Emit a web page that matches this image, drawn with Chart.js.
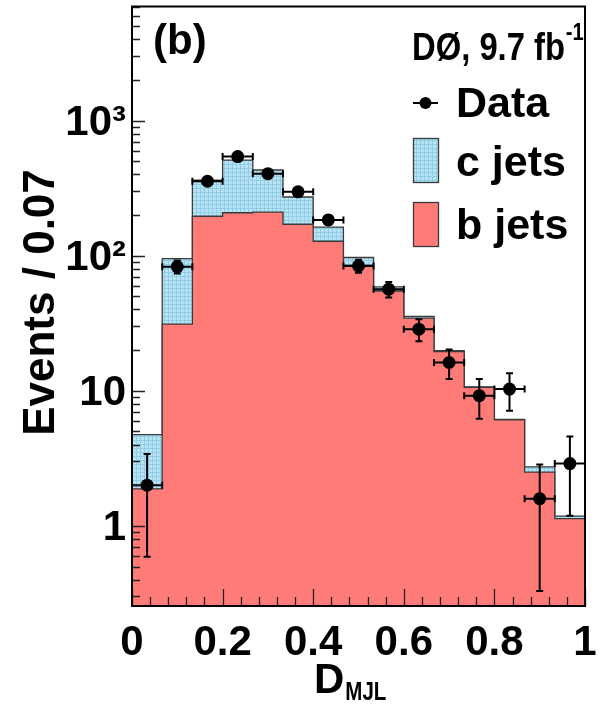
<!DOCTYPE html>
<html>
<head>
<meta charset="utf-8">
<script src="https://cdn.jsdelivr.net/npm/chart.js@4.4.1/dist/chart.umd.min.js"></script>
<style>
  html, body { margin: 0; padding: 0; background: #ffffff; }
  #wrap { width: 601px; height: 708px; position: relative; }
</style>
</head>
<body>
<div id="wrap"><canvas id="c" width="601" height="708"></canvas></div>
<script>
// D_MJL histogram: 15 bins between 0 and 1
const binEdges = [0, 0.0667, 0.1333, 0.2, 0.2667, 0.3333, 0.4, 0.4667, 0.5333, 0.6, 0.6667, 0.7333, 0.8, 0.8667, 0.9333, 1];

// b-jet template (bottom of the stack)
const bJets = [1.88, 31.2, 196, 208, 210, 171, 128, 85, 54.8, 34.5, 19.5, 10.6, 6.1, 2.50, 1.13];
// c-jet template (stacked on top of b jets)
const cJets = [2.85, 63.8, 166, 303, 221, 101, 35, 12, 3.9, 1.0, 0.3, 0.1, 0.05, 0.23, 0.05];

// observed data and its uncertainties
const dataVals = [2.0, 83, 356, 542, 405, 297, 184, 84, 56.5, 28.6, 16.2, 9.2, 10.3, 1.59, 2.89];
const dataErr  = [1.41, 9.1, 18.9, 23.3, 20.1, 17.2, 13.6, 9.2, 7.5, 5.3, 4.0, 3.0, 3.2, 1.26, 1.70];

// axis ticks
const xTickValues = [0, 0.2, 0.4, 0.6, 0.8, 1];
const xTickLabels = ['0', '0.2', '0.4', '0.6', '0.8', '1'];
const yTickValues = [1, 10, 100, 1000];
const yTickLabels = ['1', '10', '10\u00B2', '10\u00B3'];

const FONT = "'Liberation Sans', Arial, Helvetica, sans-serif";
const SALMON = '#ff7b78';
const OUTLINE = '#3a3a3a';

const canvas = document.getElementById('c');
const ctx0 = canvas.getContext('2d');

// fine light-blue cross-hatch used for the c-jet component
function makeHatch() {
  const t = document.createElement('canvas');
  t.width = 4; t.height = 4;
  const g = t.getContext('2d');
  g.fillStyle = '#b8e3f4';
  g.fillRect(0, 0, 4, 4);
  g.fillStyle = '#92cde6';
  g.fillRect(0, 0, 4, 1);
  g.fillRect(0, 0, 1, 4);
  return ctx0.createPattern(t, 'repeat');
}
const hatch = makeHatch();

// step outline points: one point per lower bin edge plus the final edge
function stepPoints(vals) {
  return binEdges.map((e, i) => ({ x: e, y: vals[Math.min(i, vals.length - 1)] }));
}
const stackTotal = bJets.map((b, i) => b + cJets[i]);
const binCenters = dataVals.map((_, i) => (binEdges[i] + binEdges[i + 1]) / 2);

// error bars with end caps, drawn through the chart scales
const errorBars = {
  id: 'errorBars',
  afterDatasetsDraw(chart) {
    const { ctx, scales: { x, y }, chartArea } = chart;
    ctx.save();
    ctx.beginPath();
    ctx.rect(chartArea.left, chartArea.top, chartArea.right - chartArea.left, chartArea.bottom - chartArea.top);
    ctx.clip();
    ctx.strokeStyle = '#000';
    ctx.lineWidth = 2;
    const cap = 3.5;
    dataVals.forEach((v, i) => {
      const px = x.getPixelForValue(binCenters[i]);
      const py = y.getPixelForValue(v);
      const xl = x.getPixelForValue(binEdges[i]);
      const xr = x.getPixelForValue(binEdges[i + 1]);
      const yh = y.getPixelForValue(v + dataErr[i]);
      const lo = v - dataErr[i];
      const yl = lo > y.min ? y.getPixelForValue(lo) : chartArea.bottom;
      ctx.beginPath();
      ctx.moveTo(xl, py); ctx.lineTo(xr, py);
      ctx.moveTo(xl, py - cap); ctx.lineTo(xl, py + cap);
      ctx.moveTo(xr, py - cap); ctx.lineTo(xr, py + cap);
      ctx.moveTo(px, yh); ctx.lineTo(px, yl);
      ctx.moveTo(px - cap, yh); ctx.lineTo(px + cap, yh);
      if (lo > y.min) { ctx.moveTo(px - cap, yl); ctx.lineTo(px + cap, yl); }
      ctx.stroke();
    });
    ctx.restore();
  }
};

// inward tick marks, frame, titles and legend
const decorations = {
  id: 'decorations',
  afterDraw(chart) {
    const { ctx, scales: { x, y }, chartArea: a } = chart;
    ctx.save();
    // tick marks
    ctx.strokeStyle = '#222';
    ctx.lineWidth = 1.3;
    ctx.beginPath();
    for (let k = 0; k <= 25; k++) {
      const v = k * 0.04;
      const px = Math.round(x.getPixelForValue(v)) + 0.5;
      const len = (k % 5 === 0) ? 17 : 9;
      ctx.moveTo(px, a.bottom); ctx.lineTo(px, a.bottom - len);
    }
    for (let d = -1; d <= 3; d++) {
      for (let m = 1; m <= 9; m++) {
        const v = m * Math.pow(10, d);
        if (v < y.min || v > y.max) continue;
        const py = Math.round(y.getPixelForValue(v)) + 0.5;
        const len = m === 1 ? 13 : 8;
        ctx.moveTo(a.left, py); ctx.lineTo(a.left + len, py);
      }
    }
    ctx.stroke();
    // frame
    ctx.strokeStyle = '#000';
    ctx.lineWidth = 2;
    ctx.strokeRect(a.left, a.top, a.right - a.left, a.bottom - a.top);

    ctx.fillStyle = '#000';
    ctx.textBaseline = 'alphabetic';
    ctx.textAlign = 'left';

    // panel label
    ctx.font = `bold 42px ${FONT}`;
    ctx.fillText('(b)', 153, 54);

    // experiment and luminosity, slightly condensed
    ctx.save();
    ctx.font = `bold 39px ${FONT}`;
    const main = 'D\u00D8, 9.7 fb';
    const w = ctx.measureText(main).width;
    const sx = 153 / w;
    ctx.translate(412, 60);
    ctx.scale(sx, 1);
    ctx.fillText(main, 0, 0);
    ctx.font = `bold 24px ${FONT}`;
    ctx.fillText('-1', w + 1, -20);
    ctx.restore();

    // legend
    ctx.font = `bold 43px ${FONT}`;
    ctx.lineWidth = 2;
    ctx.strokeStyle = '#000';
    ctx.beginPath();
    ctx.moveTo(413, 103); ctx.lineTo(438, 103);
    ctx.stroke();
    ctx.beginPath();
    ctx.arc(425.5, 103, 6, 0, Math.PI * 2);
    ctx.fill();
    ctx.fillText('Data', 456, 117);

    ctx.lineWidth = 1.3;
    ctx.strokeStyle = OUTLINE;
    ctx.fillStyle = hatch;
    ctx.fillRect(413, 138, 25, 44);
    ctx.strokeRect(413.5, 138.5, 25, 44);
    ctx.fillStyle = SALMON;
    ctx.fillRect(413, 202, 25, 44);
    ctx.strokeRect(413.5, 202.5, 25, 44);
    ctx.fillStyle = '#000';
    ctx.fillText('c jets', 456, 176);
    ctx.fillText('b jets', 456, 239);

    // axis titles
    ctx.font = `bold 42px ${FONT}`;
    ctx.fillText('D', 314, 693);
    const dw = ctx.measureText('D').width;
    ctx.save();
    ctx.font = `bold 25px ${FONT}`;
    ctx.translate(314 + dw + 1, 700);
    ctx.scale(0.82, 1);
    ctx.fillText('MJL', 0, 0);
    ctx.restore();

    ctx.save();
    ctx.translate(41.5, 302.5);
    ctx.rotate(-Math.PI / 2);
    ctx.font = `bold 44px ${FONT}`;
    ctx.textAlign = 'center';
    ctx.textBaseline = 'middle';
    ctx.fillText('Events / 0.07', 0, 0);
    ctx.restore();

    ctx.restore();
  }
};

new Chart(canvas, {
  type: 'line',
  data: {
    datasets: [
      {
        label: 'c jets',
        data: stepPoints(stackTotal),
        stepped: 'before',
        fill: 'start',
        backgroundColor: hatch,
        borderColor: OUTLINE,
        borderWidth: 1.3,
        pointRadius: 0,
        order: 3
      },
      {
        label: 'b jets',
        data: stepPoints(bJets),
        stepped: 'before',
        fill: 'start',
        backgroundColor: SALMON,
        borderColor: OUTLINE,
        borderWidth: 1.3,
        pointRadius: 0,
        order: 2
      },
      {
        label: 'Data',
        data: dataVals.map((v, i) => ({ x: binCenters[i], y: v })),
        showLine: false,
        pointRadius: 6.5,
        pointBackgroundColor: '#000',
        pointBorderWidth: 0,
        order: 1
      }
    ]
  },
  options: {
    responsive: false,
    animation: false,
    devicePixelRatio: 1,
    layout: { padding: { top: 6, right: 16, left: 0, bottom: 0 } },
    plugins: { legend: { display: false }, tooltip: { enabled: false } },
    scales: {
      x: {
        type: 'linear',
        min: 0, max: 1,
        grid: { display: false, drawTicks: false },
        border: { display: false },
        afterBuildTicks: s => { s.ticks = xTickValues.map(v => ({ value: v })); },
        ticks: {
          autoSkip: false, maxRotation: 0,
          padding: 12,
          color: '#000',
          font: { family: FONT, size: 42, weight: 'bold' },
          callback: v => xTickLabels[xTickValues.indexOf(v)] ?? ''
        },
        afterFit: s => { s.height = 102; s.paddingLeft = 0; s.paddingRight = 0; }
      },
      y: {
        type: 'logarithmic',
        min: 0.255, max: 7000,
        grid: { display: false, drawTicks: false },
        border: { display: false },
        afterBuildTicks: s => { s.ticks = yTickValues.map(v => ({ value: v })); },
        ticks: {
          autoSkip: false,
          padding: 6,
          labelOffset: 3,
          color: '#000',
          font: { family: FONT, size: 42, weight: 'bold' },
          callback: v => yTickLabels[yTickValues.indexOf(v)] ?? ''
        },
        afterFit: s => { s.width = 132; s.paddingTop = 0; s.paddingBottom = 0; }
      }
    }
  },
  plugins: [errorBars, decorations]
});
</script>
</body>
</html>
